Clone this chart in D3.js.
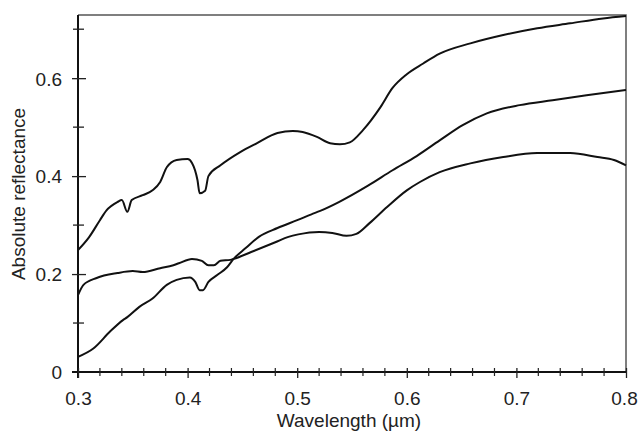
<!DOCTYPE html>
<html>
<head>
<meta charset="utf-8">
<script src="https://cdn.jsdelivr.net/npm/d3@7"></script>
<style>
  body { margin: 0; background: #fff; }
  text { font-family: "Liberation Sans", Arial, sans-serif; fill: #222; }
</style>
</head>
<body>
<svg id="chart" width="638" height="433"></svg>
<script>
// Spectra: [wavelength µm, reflectance]
const topCurve = [
  [0.300, 0.249], [0.310, 0.275], [0.320, 0.310], [0.326, 0.330], [0.336, 0.347],
  [0.340, 0.351], [0.345, 0.327], [0.349, 0.351], [0.359, 0.361], [0.368, 0.371],
  [0.375, 0.388], [0.381, 0.418], [0.390, 0.433], [0.400, 0.435], [0.404, 0.427],
  [0.409, 0.392], [0.411, 0.365], [0.416, 0.370], [0.419, 0.400], [0.430, 0.422],
  [0.448, 0.449], [0.463, 0.467], [0.482, 0.488], [0.496, 0.492], [0.505, 0.490],
  [0.518, 0.480], [0.530, 0.467], [0.539, 0.465], [0.548, 0.469], [0.560, 0.494],
  [0.576, 0.541], [0.587, 0.580], [0.600, 0.608], [0.615, 0.630], [0.630, 0.650],
  [0.658, 0.671], [0.688, 0.688], [0.719, 0.702], [0.749, 0.712], [0.779, 0.722],
  [0.800, 0.727]
];

const flatCurve = [
  [0.300, 0.157], [0.305, 0.178], [0.317, 0.192], [0.336, 0.202], [0.350, 0.206],
  [0.359, 0.204], [0.375, 0.212], [0.387, 0.218], [0.392, 0.222], [0.404, 0.231],
  [0.413, 0.227], [0.419, 0.218], [0.424, 0.218], [0.430, 0.227], [0.439, 0.229],
  [0.442, 0.231], [0.458, 0.245], [0.480, 0.265], [0.492, 0.276], [0.501, 0.281],
  [0.520, 0.286], [0.532, 0.284], [0.545, 0.278], [0.554, 0.282], [0.566, 0.304],
  [0.582, 0.337], [0.600, 0.371], [0.612, 0.388], [0.630, 0.408], [0.658, 0.426],
  [0.688, 0.439], [0.719, 0.447], [0.749, 0.447], [0.774, 0.439], [0.789, 0.433],
  [0.800, 0.422]
];

const lowCurve = [
  [0.300, 0.031], [0.314, 0.048], [0.329, 0.082], [0.341, 0.106], [0.345, 0.112],
  [0.356, 0.133], [0.368, 0.150], [0.381, 0.178], [0.390, 0.188], [0.402, 0.193],
  [0.407, 0.184], [0.411, 0.167], [0.414, 0.167], [0.419, 0.184], [0.427, 0.198],
  [0.436, 0.214], [0.442, 0.231], [0.453, 0.253], [0.465, 0.276], [0.482, 0.294],
  [0.500, 0.310], [0.513, 0.322], [0.521, 0.329], [0.538, 0.347], [0.565, 0.381],
  [0.587, 0.412], [0.609, 0.441], [0.630, 0.473], [0.651, 0.504], [0.673, 0.528],
  [0.703, 0.545], [0.733, 0.555], [0.764, 0.565], [0.800, 0.576]
];

const xMajor = [0.3, 0.4, 0.5, 0.6, 0.7, 0.8];
const xMinor = [0.32, 0.34, 0.36, 0.38, 0.42, 0.44, 0.46, 0.48, 0.52, 0.54, 0.56, 0.58,
                0.62, 0.64, 0.66, 0.68, 0.72, 0.74, 0.76, 0.78];
const yMajor = [0, 0.2, 0.4, 0.6];
const yMinor = [0.1, 0.3, 0.5, 0.7];

const svg = d3.select('#chart');
const margin = { top: 15, right: 12, bottom: 61, left: 78 };
const width = 638 - margin.left - margin.right;
const height = 433 - margin.top - margin.bottom;

const x = d3.scaleLinear().domain([0.3, 0.8]).range([margin.left, margin.left + width]);
const y = d3.scaleLinear().domain([0, 0.729]).range([margin.top + height, margin.top]);

// Frame: top and right in grey
svg.append('path')
    .attr('d', `M${x(0.3)},${y(0.729)}H${x(0.8)}V${y(0)}`)
    .attr('fill', 'none')
    .attr('stroke', '#555')
    .attr('stroke-width', 1.5);

// Curves
const line = d3.line()
    .x(d => x(d[0]))
    .y(d => y(d[1]))
    .curve(d3.curveMonotoneX);

[topCurve, flatCurve, lowCurve].forEach(data => {
    svg.append('path')
        .datum(data)
        .attr('fill', 'none')
        .attr('stroke', '#111')
        .attr('stroke-width', 2)
        .attr('stroke-linejoin', 'round')
        .attr('d', line);
});

// Y axis
const yAxis = svg.append('g').attr('transform', `translate(${margin.left},0)`);
yAxis.call(d3.axisLeft(y).tickValues(yMajor).tickSizeInner(6).tickSizeOuter(0)
    .tickPadding(10).tickFormat(d => d === 0 ? '0' : d3.format('.1f')(d)));
yAxis.selectAll('.tick line').attr('x2', 8).attr('x1', -6);
yAxis.selectAll('.tick').filter(d => d === 0).select('line').remove();
yAxis.selectAll('.tick')
    .filter(d => d !== 0)
    .select('line').attr('stroke', '#222').attr('stroke-width', 1.3);
yAxis.selectAll('.tick text').attr('font-size', 19).attr('dy', '0.36em').attr('x', -16);
yAxis.select('.domain').attr('stroke', '#111').attr('stroke-width', 2)
    .attr('d', `M0,${y(0.729)}V${y(0) + 6}`);
yAxis.selectAll('.minor')
    .data(yMinor)
    .join('line')
    .attr('class', 'minor')
    .attr('x1', -5).attr('x2', 6)
    .attr('y1', d => y(d)).attr('y2', d => y(d))
    .attr('stroke', '#222').attr('stroke-width', 1.3);

// X axis
const xAxis = svg.append('g').attr('transform', `translate(0,${margin.top + height})`);
xAxis.call(d3.axisBottom(x).tickValues(xMajor).tickSizeInner(6).tickSizeOuter(0)
    .tickPadding(14).tickFormat(d3.format('.1f')));
xAxis.selectAll('.tick line').attr('y1', -4).attr('y2', 6)
    .attr('stroke', '#222').attr('stroke-width', 1.3);
xAxis.selectAll('.tick text').attr('font-size', 19);
// last label sits against the window edge
xAxis.selectAll('.tick').filter(d => d === 0.8).select('text').attr('dx', -2);
xAxis.select('.domain').attr('stroke', '#111').attr('stroke-width', 2)
    .attr('d', `M${x(0.3) - 6},0H${x(0.8)}`);
xAxis.selectAll('.minor')
    .data(xMinor)
    .join('line')
    .attr('class', 'minor')
    .attr('x1', d => x(d)).attr('x2', d => x(d))
    .attr('y1', -4).attr('y2', 4)
    .attr('stroke', '#222').attr('stroke-width', 1.2);
svg.selectAll('.tick text').attr('font-family', '"Liberation Sans", Arial, sans-serif').attr('fill', '#222');

// Axis titles
svg.append('text')
    .attr('x', x(0.55) - 3)
    .attr('y', 427)
    .attr('text-anchor', 'middle')
    .attr('font-size', 19)
    .text('Wavelength (µm)');

svg.append('text')
    .attr('transform', `translate(25,${194}) rotate(-90)`)
    .attr('text-anchor', 'middle')
    .attr('font-size', 19)
    .text('Absolute reflectance');
</script>
</body>
</html>
